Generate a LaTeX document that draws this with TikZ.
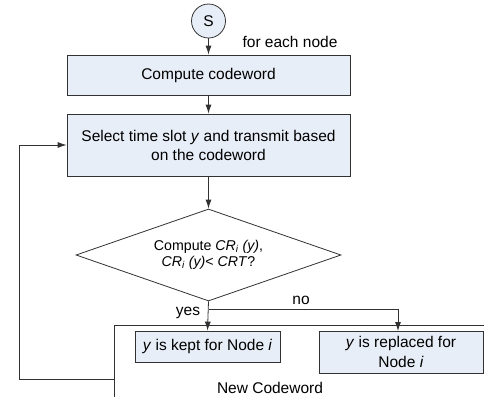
\documentclass[tikz,border=0pt]{standalone}
\usepackage{fontspec}
\setmainfont{Liberation Sans}
\usetikzlibrary{shapes.geometric,arrows.meta}
\definecolor{boxblue}{RGB}{232,238,247}
\definecolor{linegray}{RGB}{50,50,50}

\begin{document}
\begin{tikzpicture}[x=1pt, y=-1pt, line width=0.8pt, draw=linegray,
    every node/.style = {font=\fontsize{15.5}{19}\selectfont},
    proc/.style = {draw=linegray, fill=boxblue, rectangle, align=center, inner sep=0pt},
    start/.style = {draw=linegray, fill=boxblue, circle, minimum size=34pt, inner sep=0pt},
    test/.style = {draw=linegray, fill=white, diamond, minimum width=265pt, minimum height=92pt,
                   shape aspect=2.88, inner sep=0pt, align=center, font=\fontsize{14.2}{16}\selectfont},
    flow/.style = {draw=linegray, -{Latex[length=9pt,width=6pt]}}]
    \useasboundingbox (0,0) rectangle (484,397);
    \node[start](S) at (208.5,21) {S};
    \node(each) at (290,42) {for each node};
    \node[proc, minimum width=283pt, minimum height=40pt](code) at (208.5,75) {Compute codeword};
    \node[proc, minimum width=283pt, minimum height=62pt](slot) at (208.5,145)
        {Select time slot \textit{y} and transmit based\\on the codeword};
    \node[test](check) at (208.5,255)
        {Compute \textit{CR\textsubscript{i} (y)},\\\textit{CR\textsubscript{i} (y)}< \textit{CRT}?};
    % new codeword frame
    \draw (484,325) -- (114,325) -- (114,397);
    \node(newcw) at (270,388) {New Codeword};
    \node[proc, minimum width=145pt, minimum height=31pt](kept) at (207.5,346.5)
        {\textit{y} is kept for Node \textit{i}};
    \node[proc, minimum width=164pt, minimum height=42pt, font=\fontsize{15.5}{20}\selectfont](repl) at (401,352)
        {\textit{y} is replaced for\\Node \textit{i}};
    \coordinate(split) at (208.5,309);
    \coordinate(back) at (114,379);
    \draw[flow] (S) to (code);
    \draw[flow] (code) to (slot);
    \draw[flow] (slot) to (check);
    \draw[flow] (check.south) to (kept.north);
    \draw[flow] (split) -| (398,331);
    \node(yes) at (188,313) {yes};
    \node(no) at (301,300) {no};
    \draw[flow] (back) -- (19,379) |- (slot.west);
\end{tikzpicture}
\end{document}
